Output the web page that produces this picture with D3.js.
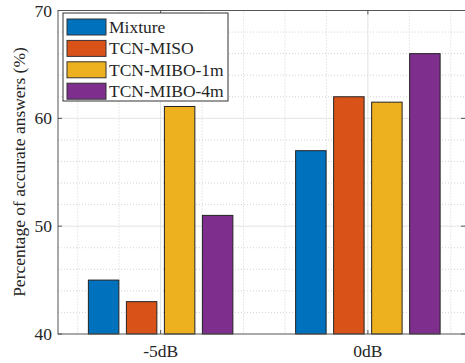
<!DOCTYPE html>
<head>
<meta charset="utf-8">
<style>
body { margin: 0; background: #fff; }
text { font-family: "Liberation Serif", "Times New Roman", serif; fill: #262626; }
</style>
</head>
<body>
<script src="https://cdn.jsdelivr.net/npm/d3@7"></script>
<script>

var categories = ["-5dB", "0dB"];
var series = ["Mixture", "TCN-MISO", "TCN-MIBO-1m", "TCN-MIBO-4m"];
var colors = ["#0072BD", "#D95319", "#EDB120", "#7E2F8E"];
var values = [
  [45, 57],
  [43, 62],
  [61.1, 61.5],
  [51, 66]
];
var yTicks = [40, 50, 60, 70];

var width = 465, height = 363;
var plotL = 58, plotR = 470, plotT = 10.5, plotB = 334;

var svg = d3.select("body").append("svg")
    .attr("width", width)
    .attr("height", height);

var x = d3.scaleLinear().domain([0.5, 2.5]).range([57, 471.5]);
var y = d3.scaleLinear().domain([40, 70]).range([plotB, plotT]);

// grid: minor dotted, major solid
var minorX = d3.range(0.6, 2.45, 0.2).filter(function(v) { return Math.abs(v - Math.round(v)) > 0.01; });
var minorY = d3.range(42, 70, 2).filter(function(v) { return v % 10 != 0; });

var grid = svg.append("g");
grid.selectAll(".mx").data(minorX).enter().append("line")
    .attr("x1", function(d) { return x(d); }).attr("x2", function(d) { return x(d); })
    .attr("y1", plotT).attr("y2", plotB)
    .style("stroke", "#c8c8c8").style("stroke-dasharray", "1,2").style("stroke-width", 0.8);
grid.selectAll(".my").data(minorY).enter().append("line")
    .attr("x1", plotL).attr("x2", plotR)
    .attr("y1", function(d) { return y(d); }).attr("y2", function(d) { return y(d); })
    .style("stroke", "#c8c8c8").style("stroke-dasharray", "1,2").style("stroke-width", 0.8);
grid.selectAll(".Mx").data([1, 2]).enter().append("line")
    .attr("x1", function(d) { return x(d); }).attr("x2", function(d) { return x(d); })
    .attr("y1", plotT).attr("y2", plotB)
    .style("stroke", "#e2e2e2").style("stroke-width", 1);
grid.selectAll(".My").data([50, 60]).enter().append("line")
    .attr("x1", plotL).attr("x2", plotR)
    .attr("y1", function(d) { return y(d); }).attr("y2", function(d) { return y(d); })
    .style("stroke", "#e2e2e2").style("stroke-width", 1);

// bars
var barW = 0.147, step = 0.1834;
series.forEach(function(s, i) {
  var off = (i - 1.5) * step;
  svg.append("g").selectAll("rect")
      .data(values[i])
      .enter().append("rect")
      .attr("x", function(d, j) { return x(j + 1 + off - barW / 2); })
      .attr("width", x(barW) - x(0))
      .attr("y", function(d) { return y(d); })
      .attr("height", function(d) { return y(40) - y(d); })
      .style("fill", colors[i])
      .style("stroke", "#222")
      .style("stroke-width", 1);
});

// axes box
svg.append("rect")
    .attr("x", plotL).attr("y", plotT)
    .attr("width", plotR - plotL).attr("height", plotB - plotT)
    .style("fill", "none").style("stroke", "#555").style("stroke-width", 1);

// ticks
svg.selectAll(".yt").data(yTicks).enter().append("line")
    .attr("x1", plotL).attr("x2", plotL + 4)
    .attr("y1", function(d) { return y(d); }).attr("y2", function(d) { return y(d); })
    .style("stroke", "#555");
svg.selectAll(".yt2").data(yTicks).enter().append("line")
    .attr("x1", 465).attr("x2", 461)
    .attr("y1", function(d) { return y(d); }).attr("y2", function(d) { return y(d); })
    .style("stroke", "#555");
svg.selectAll(".xt").data([1, 2]).enter().append("line")
    .attr("x1", function(d) { return x(d); }).attr("x2", function(d) { return x(d); })
    .attr("y1", plotB).attr("y2", plotB - 4)
    .style("stroke", "#555");
svg.selectAll(".xt2").data([1, 2]).enter().append("line")
    .attr("x1", function(d) { return x(d); }).attr("x2", function(d) { return x(d); })
    .attr("y1", plotT).attr("y2", plotT + 4)
    .style("stroke", "#555");

svg.selectAll(".yl").data(yTicks).enter().append("text")
    .attr("x", 52)
    .attr("y", function(d) { return y(d) + 6; })
    .attr("text-anchor", "end")
    .style("font-size", "17.5px")
    .text(function(d) { return d; });

svg.selectAll(".xl").data(categories).enter().append("text")
    .attr("x", function(d, i) { return x(i + 1); })
    .attr("y", 357)
    .attr("text-anchor", "middle")
    .style("font-size", "17.5px")
    .text(function(d) { return d; });

svg.append("text")
    .attr("transform", "translate(25,172) rotate(-90)")
    .attr("text-anchor", "middle")
    .style("font-size", "17.5px")
    .text("Percentage of accurate answers (%)");

// legend
var lg = svg.append("g");
lg.append("rect")
    .attr("x", 63).attr("y", 13).attr("width", 165).attr("height", 88)
    .style("fill", "#fff").style("stroke", "#333").style("stroke-width", 1);
series.forEach(function(s, i) {
  var cy = 27 + i * 21.4;
  lg.append("rect")
      .attr("x", 67).attr("y", cy - 8).attr("width", 39).attr("height", 16)
      .style("fill", colors[i]).style("stroke", "#333");
  lg.append("text")
      .attr("x", 109).attr("y", cy + 6)
      .style("font-size", "17.5px")
      .text(s);
});

</script>
</body>
</html>
